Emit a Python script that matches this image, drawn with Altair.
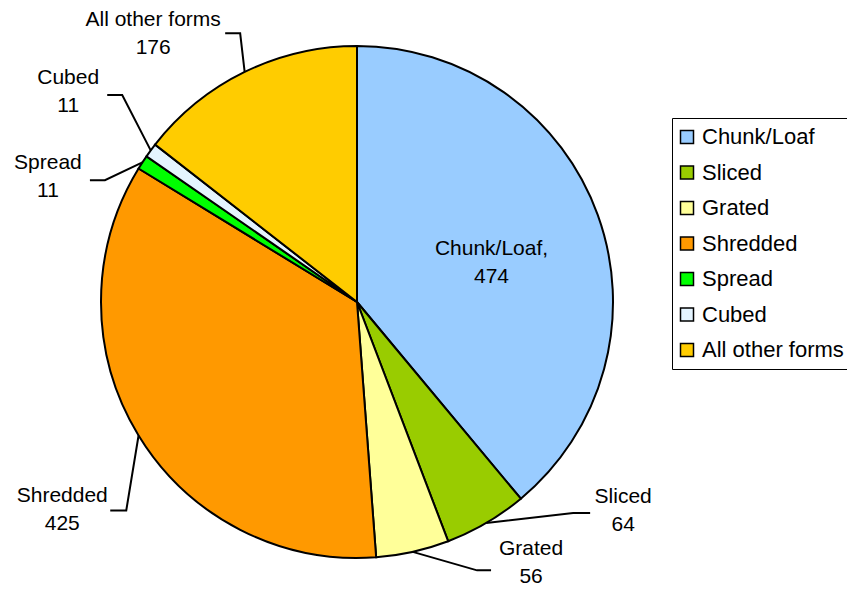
import altair as alt
import pandas as pd
import numpy as np

categories = ["Chunk/Loaf", "Sliced", "Grated", "Shredded", "Spread", "Cubed", "All other forms"]
values = [474, 64, 56, 425, 11, 11, 176]
colors = ["#99CCFF", "#99CC00", "#FFFF99", "#FF9900", "#00FF00", "#E4F4FF", "#FFCC00"]

# ---- layout (pixels / degrees), not data ----
CX, CY, R = 349, 294, 256
FONT = "Liberation Sans"
# elbow angle (deg clockwise from top), elbow radius, tail dx, text dx, text dy
leader = {
    "Sliced": (134.3, 302, 17, 33, -16),
    "Grated": (155.9, 294, 14, 40, -21),
    "Shredded": (227.9, 311, -16, -48, -15),
    "Spread": (295.8, 280, -15, -42, -17),
    "Cubed": (311.4, 313, -15, -39, -17),
    "All other forms": (336.5, 293, -15, -72, -13),
}
inside = {"Chunk/Loaf": (73.9, 140)}


def polar(ang, rad):
    a = np.radians(ang)
    return CX + rad * np.sin(a), CY - rad * np.cos(a)


total = sum(values)
cum = np.cumsum([0] + values)
mid = {c: 360 * (cum[i] + values[i] / 2) / total for i, c in enumerate(categories)}

df = pd.DataFrame({"category": categories, "value": values, "idx": range(len(categories))})

line_rows, text_rows = [], []
for i, c in enumerate(categories):
    v = values[i]
    if c in leader:
        ea, er, tdx, xdx, ydy = leader[c]
        x0, y0 = polar(mid[c], R)
        x1, y1 = polar(ea, er)
        x2, y2 = x1 + tdx, y1
        for k, (x, y) in enumerate([(x0, y0), (x1, y1), (x2, y2)]):
            line_rows.append({"category": c, "k": k, "x": x, "y": y})
        text_rows.append({"label": f"{c}\n{v}", "x": x2 + xdx, "y": y2 + ydy})
    else:
        a, r = inside[c]
        x, y = polar(a, r)
        text_rows.append({"label": f"{c},\n{v}", "x": x, "y": y - 14})

lines = pd.DataFrame(line_rows)
texts = pd.DataFrame(text_rows)

pie = alt.Chart(df).mark_arc(outerRadius=R, stroke="black", strokeWidth=2).encode(
    theta=alt.Theta("value:Q", stack=True),
    color=alt.Color(
        "category:N",
        scale=alt.Scale(domain=categories, range=colors),
        sort=categories,
        legend=alt.Legend(
            title=None,
            orient="none",
            legendX=664,
            legendY=110,
            fillColor="white",
            strokeColor="black",
            padding=8,
            symbolType="square",
            symbolSize=169,
            symbolOffset=-4,
            symbolStrokeColor="black",
            symbolStrokeWidth=1.5,
            symbolOpacity=1,
            labelFont=FONT,
            labelFontSize=22,
            labelColor="black",
            labelOffset=4,
            rowPadding=13.5,
        ),
    ),
    order=alt.Order("idx:Q"),
    x=alt.value(CX),
    y=alt.value(CY),
)

leaders = alt.Chart(lines).mark_line(color="black", strokeWidth=2).encode(
    x=alt.X("x:Q", scale=None),
    y=alt.Y("y:Q", scale=None),
    detail="category:N",
    order="k:Q",
)

labels = alt.Chart(texts).mark_text(
    font=FONT, fontSize=21, color="black", align="center", baseline="middle",
    lineBreak="\n", lineHeight=28,
).encode(
    x=alt.X("x:Q", scale=None),
    y=alt.Y("y:Q", scale=None),
    text="label:N",
)

chart = alt.layer(pie, leaders, labels).properties(
    width=839, height=582, autosize="none", padding=0
).configure_view(stroke=None)

chart.save("out.html", embed_options={"renderer": "svg", "actions": False})
